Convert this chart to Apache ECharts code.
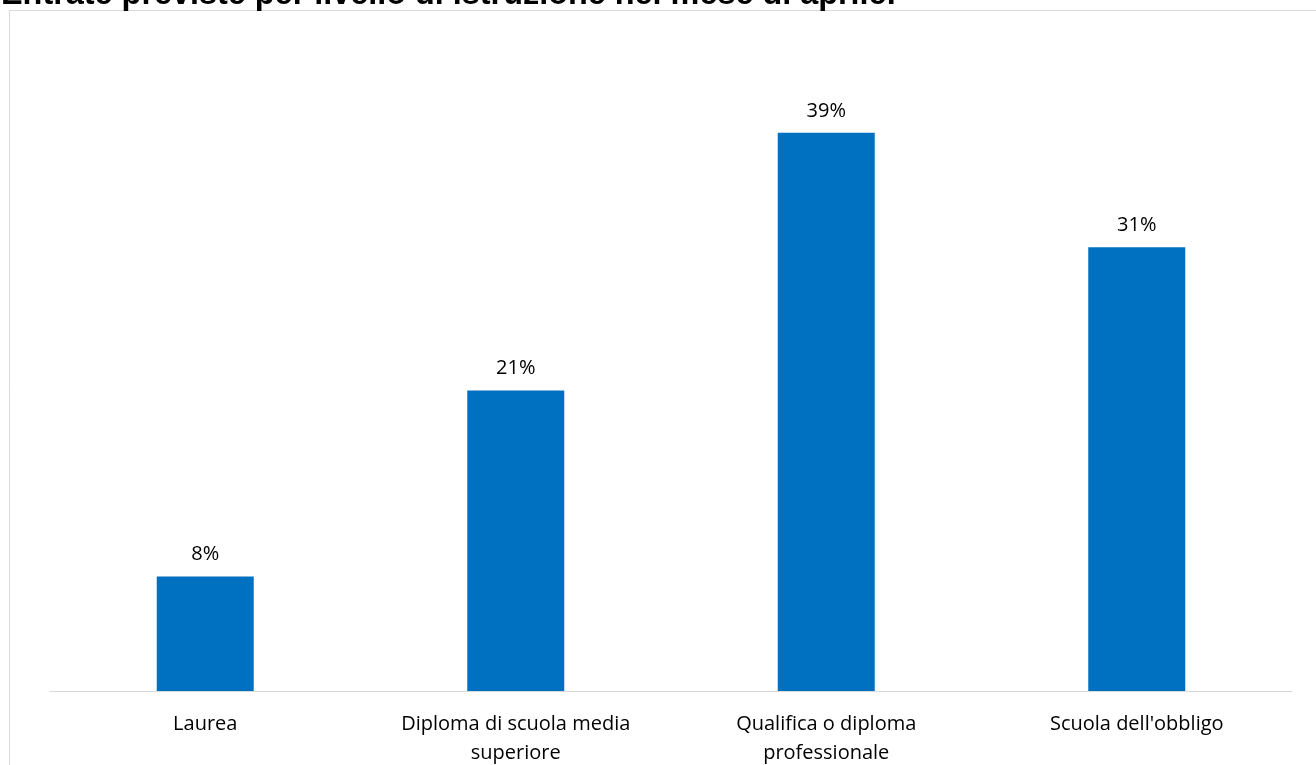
<!DOCTYPE html>
<html>
<head>
<meta charset="utf-8">
<script src="https://cdn.jsdelivr.net/npm/echarts@6/dist/echarts.min.js"></script>
<style>
  html, body { margin: 0; padding: 0; background: #fff; }
  #chart { width: 1316px; height: 765px; }
</style>
</head>
<body>
<div id="chart"></div>
<script>
// categorie e valori (%)
const categories = [
  'Laurea',
  'Diploma di scuola media\nsuperiore',
  'Qualifica o diploma\nprofessionale',
  "Scuola dell'obbligo"
]
const values = [8, 21, 39, 31]
const titleText = 'Entrate previste per livello di istruzione nel mese di aprile.'

const chart = echarts.init(document.getElementById('chart'))
chart.setOption({
  animation: false,
  backgroundColor: '#fff',
  title: {
    text: titleText,
    left: -4,
    top: -26,
    textStyle: {
      fontFamily: 'Liberation Sans, Arial',
      fontWeight: 'bold',
      fontSize: 32.4,
      color: '#000'
    }
  },
  graphic: [
    {
      type: 'rect',
      shape: { x: 9.5, y: 10.5, width: 1400, height: 900 },
      style: { fill: 'none', stroke: '#d9d9d9', lineWidth: 1 },
      z: -1
    }
  ],
  grid: {
    left: 50,
    right: 24,
    top: 47,
    bottom: 74,
    outerBoundsMode: 'none'
  },
  xAxis: {
    type: 'category',
    data: categories,
    axisLine: { show: true, lineStyle: { color: '#d9d9d9', width: 1 } },
    axisTick: { show: false },
    axisLabel: {
      interval: 0,
      margin: 19,
      fontFamily: 'Open Sans, Lato, sans-serif',
      fontSize: 20,
      lineHeight: 29,
      color: '#000'
    }
  },
  yAxis: {
    type: 'value',
    min: 0,
    max: 45,
    show: false,
    splitLine: { show: false }
  },
  series: [
    {
      type: 'bar',
      data: values,
      barWidth: 97,
      itemStyle: { color: '#0070c0' },
      label: {
        show: true,
        position: 'top',
        distance: 12,
        formatter: '{c}%',
        fontFamily: 'Open Sans, Lato, sans-serif',
        fontSize: 20,
        color: '#000'
      }
    }
  ]
})
</script>
</body>
</html>
